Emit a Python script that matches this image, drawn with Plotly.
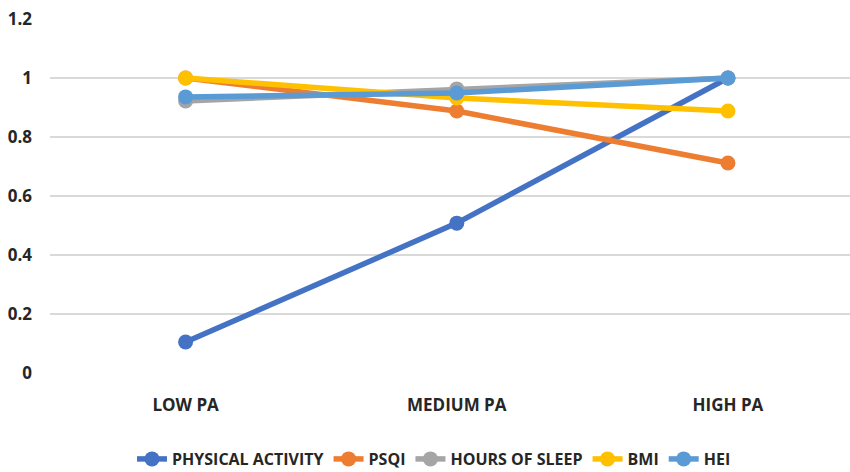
import plotly.graph_objects as go

categories = ["LOW PA", "MEDIUM PA", "HIGH PA"]
physical_activity = [0.105, 0.508, 1.0]
psqi = [1.0, 0.888, 0.712]
hours_of_sleep = [0.922, 0.963, 1.0]
bmi = [1.0, 0.932, 0.888]
hei = [0.936, 0.949, 1.0]

series = [
    ("PHYSICAL ACTIVITY", physical_activity, "#4472C4"),
    ("PSQI", psqi, "#ED7D31"),
    ("HOURS OF SLEEP", hours_of_sleep, "#A5A5A5"),
    ("BMI", bmi, "#FFC000"),
    ("HEI", hei, "#5B9BD5"),
]

fig = go.Figure()
for name, vals, color in series:
    fig.add_trace(go.Scatter(
        x=categories, y=vals, name=name, mode="lines+markers",
        line=dict(color=color, width=5.5),
        marker=dict(color=color, size=15),
    ))

font_family = "'Open Sans', sans-serif"
txt = dict(family=font_family, size=17, color="#262626", weight="bold")
leg_txt = dict(family=font_family, size=16, color="#262626", weight="bold")
fig.update_layout(
    width=850, height=472,
    margin=dict(l=50, r=0, t=19, b=99, autoexpand=False),
    paper_bgcolor="white", plot_bgcolor="white",
    font=txt,
    xaxis=dict(
        type="category", range=[-0.5, 2.45], automargin=False,
        showgrid=False, showline=False, zeroline=False,
        tickfont=txt, ticks="", ticklabelstandoff=20,
    ),
    yaxis=dict(
        range=[0, 1.2], dtick=0.2, tick0=0, automargin=False,
        showgrid=True, gridcolor="#D9D9D9", gridwidth=1.5,
        zeroline=False, showline=False, ticks="",
        tickfont=txt, ticklabelstandoff=17,
    ),
    legend=dict(
        orientation="h", x=0.48, xanchor="center", y=-0.243, yanchor="middle",
        font=leg_txt, tracegroupgap=0,
    ),
    showlegend=True,
)

fig.write_html(
    "out.html",
    config={"displayModeBar": False},
    post_script="document.body.style.margin='0px';document.body.style.overflow='hidden';",
)
